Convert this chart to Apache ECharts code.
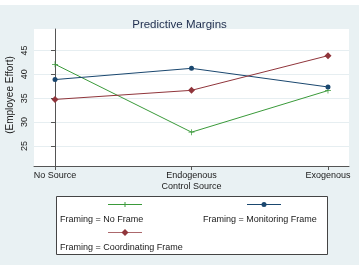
<!DOCTYPE html>
<html><head><meta charset="utf-8">
<script src="https://cdn.jsdelivr.net/npm/echarts@6/dist/echarts.min.js"></script>
<style>html,body{margin:0;padding:0;background:#fff}#c{width:359px;height:269px}</style>
</head><body><div id="c"></div>
<script>
var categories = ['No Source', 'Endogenous', 'Exogenous'];
var xPos = [0, 1, 2];
var noFrame = [42.1, 27.9, 36.6];
var monitoringFrame = [38.9, 41.25, 37.35];
var coordinatingFrame = [34.75, 36.65, 43.9];
var yTicks = [25, 30, 35, 40, 45];
var seriesNames = ['Framing = No Frame', 'Framing = Monitoring Frame', 'Framing = Coordinating Frame'];

var FONT = '"Liberation Sans", Arial, sans-serif';
var GREEN = '#3a9a3a', NAVY = '#1a476f', MAROON = '#90353b';
var plusPath = 'path://M-0.12,-1 L0.12,-1 L0.12,-0.12 L1,-0.12 L1,0.12 L0.12,0.12 L0.12,1 L-0.12,1 L-0.12,0.12 L-1,0.12 L-1,-0.12 L-0.12,-0.12 Z';

function pairs(vals){ return xPos.map(function(x,i){ return [x, vals[i]]; }); }

var chart = echarts.init(document.getElementById('c'), null, {renderer:'canvas'});
var txt = {fontFamily: FONT, fontSize: 9, fill: '#1a1a1a'};
chart.setOption({
  backgroundColor: '#e9f1f3',
  animation: false,
  title: {
    text: 'Predictive Margins', left: 'center', top: 14,
    textStyle: {fontFamily: FONT, fontSize: 11.5, fontWeight: 'normal', color: '#1e2d4d'}
  },
  grid: {left: 34, top: 29, right: 10, bottom: 103, show: true, backgroundColor: '#fff', borderWidth: 0,
         containLabel: false, outerBoundsMode: 'none'},
  xAxis: {
    type: 'value', min: -0.154, max: 2.154,
    axisLine: {lineStyle: {color: '#555', width: 1}},
    axisTick: {show: true, length: 4, customValues: xPos, lineStyle: {color: '#555'}},
    axisLabel: {customValues: xPos, margin: 5, fontFamily: FONT, fontSize: 9, color: '#1a1a1a',
      formatter: function(v){ return categories[Math.round(v)]; }},
    splitLine: {show: false},
    name: 'Control Source', nameLocation: 'middle', nameGap: 16, nameMoveOverlap: false,
    nameTextStyle: {fontFamily: FONT, fontSize: 9, color: '#1a1a1a'}
  },
  yAxis: {
    type: 'value', min: 20.82, max: 49.48,
    axisLine: {show: true, lineStyle: {color: '#555', width: 1}},
    axisTick: {show: true, length: 4, customValues: yTicks, lineStyle: {color: '#555'}},
    axisLabel: {customValues: yTicks, rotate: 90, margin: 5, fontFamily: FONT, fontSize: 9, color: '#1a1a1a'},
    splitLine: {show: true, lineStyle: {color: '#e6eef1', width: 1}},
    name: '(Employee Effort)', nameLocation: 'middle', nameGap: 19, nameMoveOverlap: false,
    nameTextStyle: {fontFamily: FONT, fontSize: 10, color: '#1a1a1a', padding: [0, 0, 0, 5]}
  },
  series: [
    {name: seriesNames[0], type: 'line', data: pairs(noFrame), symbol: plusPath, symbolSize: 6,
     lineStyle: {color: GREEN, width: 1}, itemStyle: {color: GREEN}},
    {name: seriesNames[1], type: 'line', data: pairs(monitoringFrame), symbol: 'circle', symbolSize: 5,
     lineStyle: {color: NAVY, width: 1}, itemStyle: {color: NAVY}},
    {name: seriesNames[2], type: 'line', data: pairs(coordinatingFrame), symbol: 'diamond', symbolSize: 7,
     lineStyle: {color: MAROON, width: 1}, itemStyle: {color: MAROON}}
  ],
  graphic: [
    {type: 'rect', shape: {x: 0, y: 0, width: 359, height: 5}, style: {fill: '#fff'}, silent: true},
    {type: 'rect', shape: {x: 0, y: 265, width: 359, height: 4}, style: {fill: '#fff'}, silent: true},
    {type: 'rect', shape: {x: 56.5, y: 196.5, width: 271, height: 58}, style: {fill: '#fff', stroke: '#444', lineWidth: 1}, silent: true},
    {type: 'line', shape: {x1: 108, y1: 204.5, x2: 142, y2: 204.5}, style: {stroke: GREEN, lineWidth: 1}},
    {type: 'line', shape: {x1: 125, y1: 202, x2: 125, y2: 207}, style: {stroke: GREEN, lineWidth: 1}},
    {type: 'text', style: Object.assign({text: seriesNames[0], x: 60, y: 220, textVerticalAlign: 'middle'}, txt)},
    {type: 'line', shape: {x1: 247, y1: 204.5, x2: 281, y2: 204.5}, style: {stroke: NAVY, lineWidth: 1}},
    {type: 'circle', shape: {cx: 264, cy: 204.5, r: 2.5}, style: {fill: NAVY}},
    {type: 'text', style: Object.assign({text: seriesNames[1], x: 203, y: 220, textVerticalAlign: 'middle'}, txt)},
    {type: 'line', shape: {x1: 108, y1: 232.5, x2: 142, y2: 232.5}, style: {stroke: MAROON, lineWidth: 1, opacity: 0.75}},
    {type: 'polygon', shape: {points: [[125, 229], [128.5, 232.5], [125, 236], [121.5, 232.5]]}, style: {fill: MAROON}},
    {type: 'text', style: Object.assign({text: seriesNames[2], x: 60, y: 247.5, textVerticalAlign: 'middle'}, txt)}
  ]
});
</script></body></html>
